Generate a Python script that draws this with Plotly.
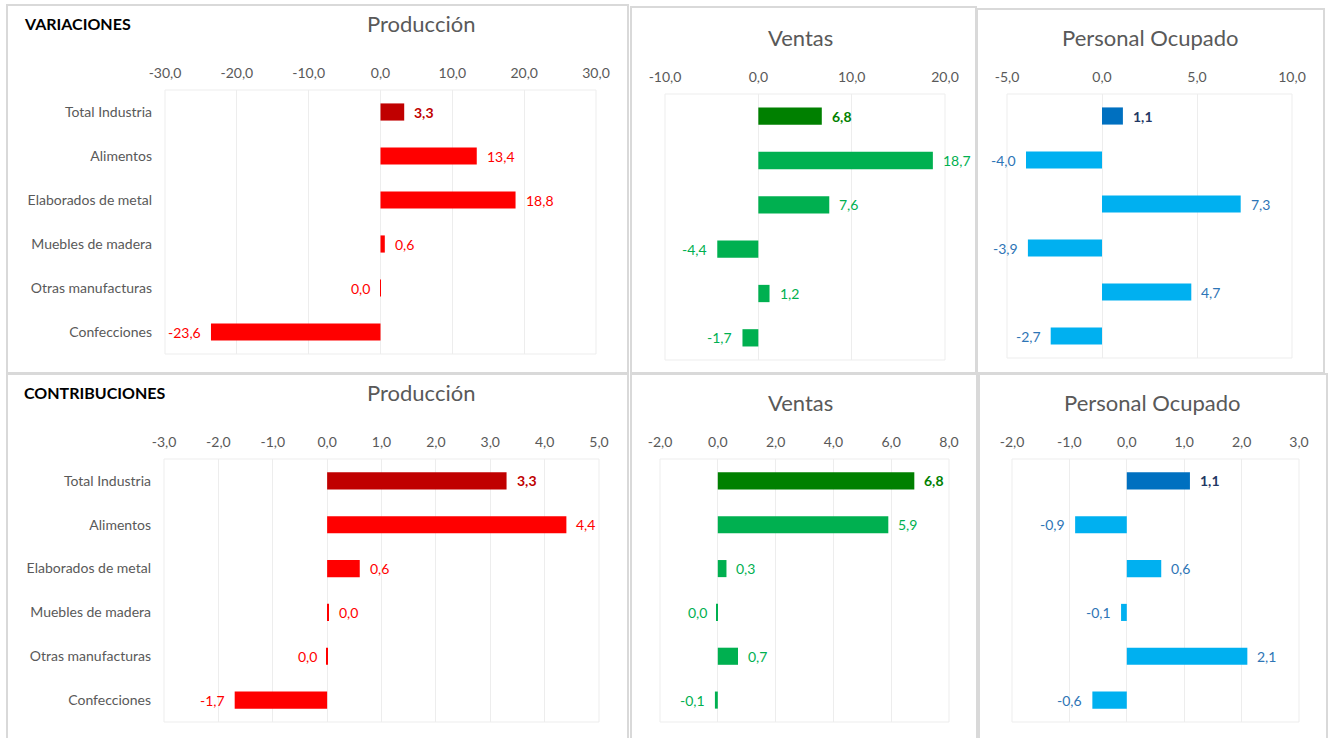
import plotly.graph_objects as go

W, H = 1329, 738

categorias = ["Total Industria", "Alimentos", "Elaborados de metal",
              "Muebles de madera", "Otras manufacturas", "Confecciones"]

# Variaciones (%)
var_produccion = [3.3, 13.4, 18.8, 0.6, -0.02, -23.6]
var_ventas = [6.8, 18.7, 7.6, -4.4, 1.2, -1.7]
var_personal = [1.1, -4.0, 7.3, -3.9, 4.7, -2.7]

# Contribuciones (pp)
con_produccion = [3.3, 4.4, 0.6, 0.03, -0.005, -1.7]
con_ventas = [6.8, 5.9, 0.3, -0.03, 0.7, -0.1]
con_personal = [1.1, -0.9, 0.6, -0.1, 2.1, -0.6]

ticks_var_prod = [-30, -20, -10, 0, 10, 20, 30]
ticks_var_vent = [-10, 0, 10, 20]
ticks_var_pers = [-5, 0, 5, 10]
ticks_con_prod = [-3, -2, -1, 0, 1, 2, 3, 4, 5]
ticks_con_vent = [-2, 0, 2, 4, 6, 8]
ticks_con_pers = [-2, -1, 0, 1, 2, 3]

ROJO = ("#C00000", "#FF0000", "#C00000", "#FF0000")
VERDE = ("#008000", "#00B050", "#008000", "#00B050")
AZUL = ("#0070C0", "#00B0F0", "#1F3864", "#2E75B6")

FONT = "Lato"
GRIS = "#595959"


def fmt(v):
    s = f"{v:.1f}"
    if s == "-0.0":
        s = "0.0"
    return s.replace(".", ",")


def px_x(p):
    return p / W


def px_y(p):
    return 1 - p / H


# (valores, ticks, colores, x0, x1, y0, y1, mostrar categorias)
paneles = [
    (var_produccion, ticks_var_prod, ROJO, 165, 596, 90, 354, True),
    (var_ventas, ticks_var_vent, VERDE, 665, 945, 94, 360, False),
    (var_personal, ticks_var_pers, AZUL, 1007, 1292, 94, 358, False),
    (con_produccion, ticks_con_prod, ROJO, 164, 599, 459, 722, True),
    (con_ventas, ticks_con_vent, VERDE, 660, 949, 459, 722, False),
    (con_personal, ticks_con_pers, AZUL, 1012, 1299, 459, 722, False),
]

fig = go.Figure()
annotations = []
shapes = []

for i, (vals, ticks, col, x0, x1, y0, y1, show_cat) in enumerate(paneles):
    n = i + 1
    xa = "x" if n == 1 else f"x{n}"
    ya = "y" if n == 1 else f"y{n}"
    colors = [col[0]] + [col[1]] * (len(vals) - 1)
    fig.add_trace(go.Bar(
        x=vals, y=categorias, orientation="h",
        marker=dict(color=colors, line=dict(width=0)),
        width=0.39, xaxis=xa, yaxis=ya, showlegend=False,
        hoverinfo="x+y",
    ))
    for j, (v, c) in enumerate(zip(vals, categorias)):
        annotations.append(dict(
            x=v, y=c, xref=xa, yref=ya,
            text=f"<b>{fmt(v)}</b>" if j == 0 else fmt(v),
            showarrow=False,
            xanchor="left" if v >= 0 else "right",
            xshift=8 if v >= 0 else -8,
            font=dict(family=FONT, size=14, color=col[2] if j == 0 else col[3]),
        ))
    axkey = "xaxis" if n == 1 else f"xaxis{n}"
    aykey = "yaxis" if n == 1 else f"yaxis{n}"
    fig.update_layout(**{
        axkey: dict(
            domain=[px_x(x0), px_x(x1)], anchor=ya, side="top",
            range=[ticks[0], ticks[-1]], tickvals=ticks,
            ticktext=[fmt(t) for t in ticks],
            showgrid=True, gridcolor="#EDEDED", gridwidth=1,
            zeroline=False, showline=False, ticks="",
            tickfont=dict(family=FONT, size=14, color=GRIS),
            ticklabelstandoff=8, fixedrange=True, automargin=False,
        ),
        aykey: dict(
            domain=[px_y(y1), px_y(y0)], anchor=xa,
            autorange="reversed", showgrid=False, zeroline=False,
            showticklabels=show_cat, ticks="",
            tickfont=dict(family=FONT, size=14, color=GRIS),
            ticklabelstandoff=12, fixedrange=True, automargin=False,
        ),
    })
    # borde del area de trazado
    shapes.append(dict(type="rect", xref="paper", yref="paper",
                       x0=px_x(x0), x1=px_x(x1), y0=px_y(y1), y1=px_y(y0),
                       line=dict(color="#EDEDED", width=1), layer="below"))

# marcos de cada grafico
marcos = [(7, 628, 5, 373), (631, 976, 7, 373), (977, 1324, 9, 373),
          (7, 628, 374, 742), (631, 977, 374, 742), (979, 1327, 374, 742)]
for a, b, c, d in marcos:
    shapes.append(dict(type="rect", xref="paper", yref="paper",
                       x0=px_x(a), x1=px_x(b), y0=px_y(d), y1=px_y(c),
                       line=dict(color="#D9D9D9", width=2), layer="below"))

titulos = [("VARIACIONES", 22, 24, "left", 16, "black", True),
           ("Producción", 421, 24, "center", 22, GRIS, False),
           ("Ventas", 800, 38, "center", 22, GRIS, False),
           ("Personal Ocupado", 1150, 38, "center", 22, GRIS, False),
           ("CONTRIBUCIONES", 22, 393, "left", 16, "black", True),
           ("Producción", 421, 393, "center", 22, GRIS, False),
           ("Ventas", 800, 402, "center", 22, GRIS, False),
           ("Personal Ocupado", 1152, 402, "center", 22, GRIS, False)]
for t, x, y, anc, sz, c, b in titulos:
    annotations.append(dict(
        text=f"<b>{t}</b>" if b else t, x=px_x(x), y=px_y(y),
        xref="paper", yref="paper", xanchor=anc, yanchor="middle",
        showarrow=False, font=dict(family=FONT, size=sz, color=c),
    ))

fig.update_layout(
    width=W, height=H, margin=dict(l=0, r=0, t=0, b=0, autoexpand=False),
    paper_bgcolor="white", plot_bgcolor="white",
    annotations=annotations, shapes=shapes, bargap=0.6,
    font=dict(family=FONT, color=GRIS),
)

# sin margen en la pagina para que el grafico ocupe la ventana exacta
fig.write_html("out.html", config={"displayModeBar": False},
               post_script="document.body.style.margin='0';document.body.style.overflow='hidden';")
